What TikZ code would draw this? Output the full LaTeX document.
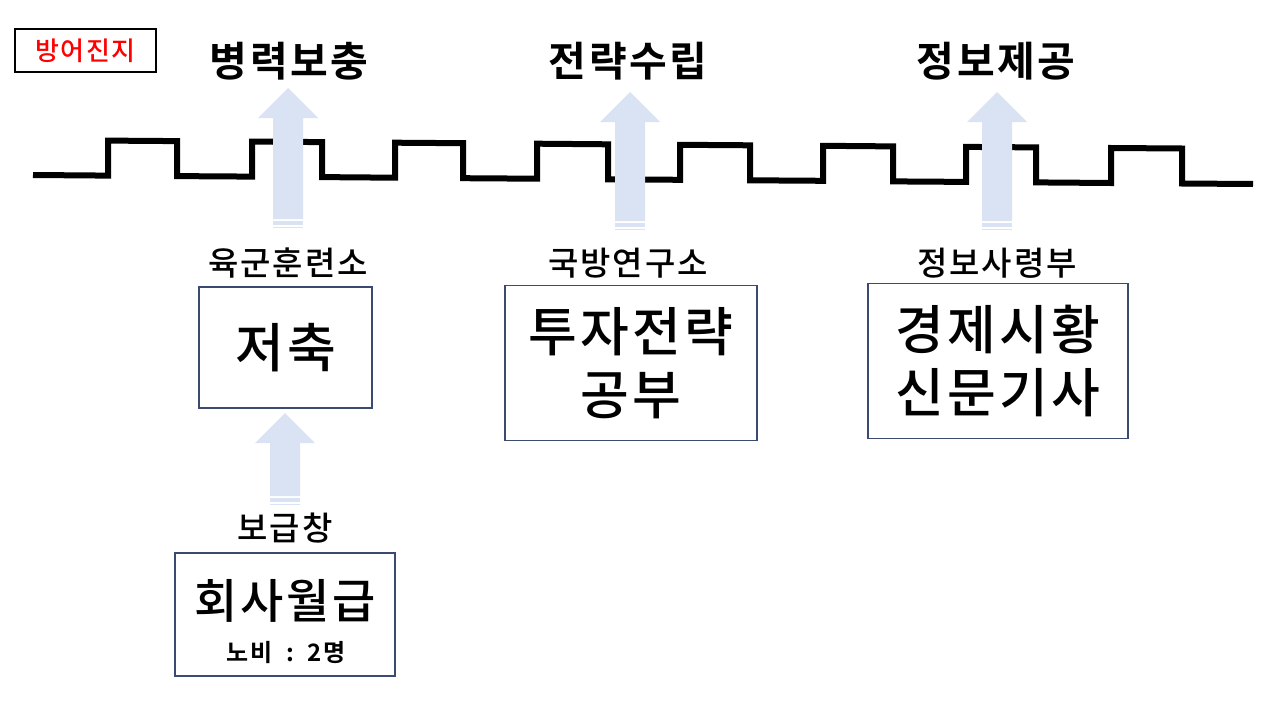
\documentclass[tikz,border=0pt]{standalone}
\usepackage{fontspec}
\setmainfont[LetterSpace=6, BoldFont={Noto Sans CJK KR Bold}]{Noto Sans CJK KR Medium}
\definecolor{arrowfill}{HTML}{DAE3F3}
\definecolor{boxline}{HTML}{3B4A70}
\newcommand{\blockarrow}[3]{%
  \fill[arrowfill] (#1-15,#3-9) -- (#1-15,#2+30) -- (#1-30,#2+30) -- (#1,#2)
    -- (#1+30,#2+30) -- (#1+15,#2+30) -- (#1+15,#3-9) -- cycle;
  \fill[arrowfill] (#1-15,#3-7) rectangle (#1+15,#3-3);
  \fill[arrowfill] (#1-15,#3-1.5) rectangle (#1+15,#3);
}

\begin{document}
\begin{tikzpicture}[x=1pt, y=-1pt,
    box/.style={draw=boxline, line width=1.6pt, rectangle, inner sep=0pt, align=center, font=\fontsize{53}{63}\selectfont},
    title/.style={font=\fontsize{41}{44}\selectfont\bfseries},
    place/.style={font=\fontsize{33}{36}\selectfont},
    wave/.style={line width=6pt}]
    \fill[white] (0,0) rectangle (1280,720);
    \useasboundingbox (0,0) rectangle (1280,720);

    % Tag
    \node[draw, line width=1.8pt, minimum width=141pt, minimum height=43pt, text=red, font=\fontsize{26}{28}\selectfont] (tag) at (85.5,50.5) {방어진지};

    % Signal
    \draw[wave] (33,175) -- (108,175.6) -- (108,140.6) -- (177,141.1) -- (177,176.1) -- (252,176.6) -- (252,141.6) -- (322,142.1) -- (322,177.1) -- (395,177.7) -- (395,142.7) -- (463,143.2) -- (463,178.2) -- (537,178.7) -- (537,143.7) -- (608,144.3) -- (608,179.3) -- (680,179.8) -- (680,144.8) -- (750,145.3) -- (750,180.3) -- (823,180.8) -- (823,145.8) -- (893,146.4) -- (893,181.4) -- (966,181.9) -- (966,146.9) -- (1036,147.4) -- (1036,182.4) -- (1111,183.0) -- (1111,148.0) -- (1182,148.5) -- (1182,183.5) -- (1253,184);

    % Goals
    \node[title] (goal-1) at (289,61) {병력보충};
    \node[title] (goal-2) at (628,61) {전략수립};
    \node[title] (goal-3) at (996,61) {정보제공};

    % Arrows
    \blockarrow{288}{88}{228}
    \blockarrow{630}{92}{230}
    \blockarrow{997}{92}{230}
    \blockarrow{285}{413}{505}

    % Places
    \node[place] (place-1) at (288,263) {육군훈련소};
    \node[place] (place-2) at (628,263) {국방연구소};
    \node[place] (place-3) at (997,263) {정보사령부};
    \node[place] (place-4) at (285,528) {보급창};

    % Boxes
    \node[box, minimum width=173pt, minimum height=121pt] (box-1) at (285.5,347.5) {저축};
    \node[box, minimum width=252pt, minimum height=155pt] (box-2) at (631,363) {투자전략\\공부};
    \node[box, minimum width=260pt, minimum height=155pt] (box-3) at (998,361) {경제시황\\신문기사};
    \node[box, minimum width=220pt, minimum height=123pt] (box-4) at (285,614.5) {};
    \node[font=\fontsize{47}{50}\selectfont] (pay) at (285,601) {회사월급};
    \node[font=\fontsize{24}{26}\selectfont\bfseries] (slaves) at (286,653) {노비\ \ :\ \ 2명};

\end{tikzpicture}
\end{document}
